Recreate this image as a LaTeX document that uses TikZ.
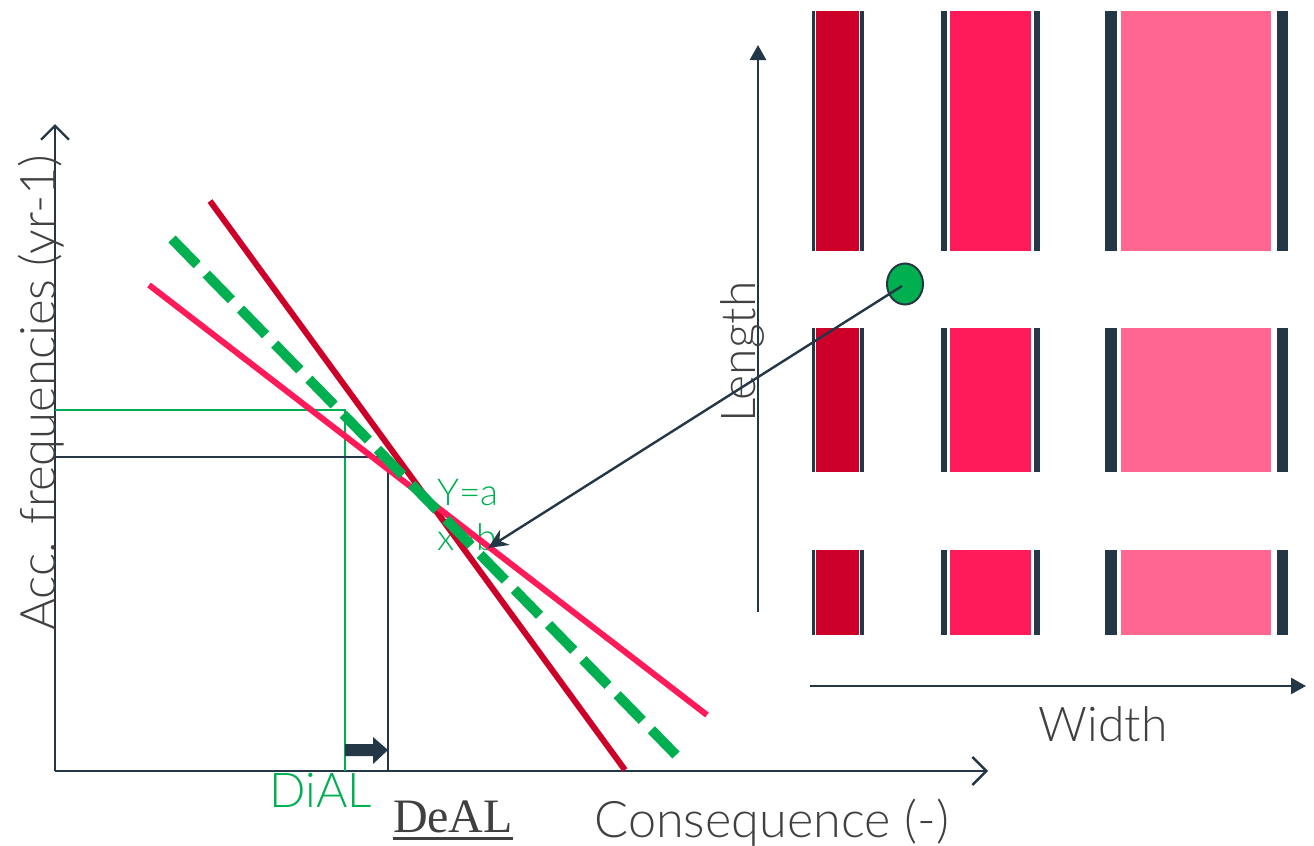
\documentclass[tikz,border=0pt]{standalone}
\usepackage{fontspec}
\setmainfont{Lato Light}
\newfontfamily\dealfont{Liberation Serif}
\usetikzlibrary{arrows.meta,shapes.geometric}
\definecolor{navy}{HTML}{243746}
\definecolor{darkred}{HTML}{CC0029}
\definecolor{pinkred}{HTML}{FF1A5A}
\definecolor{lightpink}{HTML}{FF6690}
\definecolor{gr}{HTML}{00B050}
\definecolor{txt}{HTML}{404040}
\begin{document}
\begin{tikzpicture}[x=0.5pt,y=-0.5pt,
  lbl/.style={inner sep=0pt,text=txt,font=\fontsize{24}{28}\selectfont},
  openaxis/.style={navy,line width=1.4pt,-{Straight Barb[length=7pt,width=14pt,line width=1.2pt]}},
  solidaxis/.style={navy,line width=1.3pt,-{Triangle[length=7.5pt,width=8pt]}},
  strip/.style={fill=navy},
  trend/.style={line width=3pt},
  refline/.style={line width=1pt}]
\useasboundingbox (0,0) rectangle (1314,846);

% ---------- left chart ----------
\coordinate (O) at (55,771);
\coordinate (ytop) at (55,124);
\coordinate (xend) at (988,771);
\draw[openaxis] (O) -- (ytop);
\draw[openaxis] (O) -- (xend);

\node[lbl,rotate=90,anchor=base,font=\fontsize{24.5}{28}\selectfont] (ylab) at (55,393) {Acc. frequencies (yr-1)};
\node[lbl,anchor=base west,font=\fontsize{25.2}{28}\selectfont] (xlab) at (594,837) {Consequence (-)};

% reference lines
\coordinate (gh0) at (55,410);
\coordinate (gh1) at (345,410);
\coordinate (gv1) at (345,771);
\coordinate (bh0) at (55,457);
\coordinate (bh1) at (388,457);
\coordinate (bv1) at (388,771);
\draw[refline,gr] (gh0) -- (gh1) -- (gv1);
\draw[refline,navy] (bh0) -- (bh1) -- (bv1);

% shift arrow
\fill[navy] (345,744) -- (373,744) -- (373,737) -- (388,750) -- (373,764) -- (373,756) -- (345,756) -- cycle;

\node[lbl,text=gr,anchor=base] (dial) at (321,807) {DiAL};
\node[lbl,anchor=base,font=\dealfont\fontsize{24}{28}\selectfont] (deal) at (453,832) {DeAL};
\draw[txt,line width=1.5pt] ([yshift=-3pt]deal.base west) -- ([yshift=-3pt]deal.base east);

\node[lbl,text=gr,anchor=base west,align=left,font=\fontsize{18.5}{22.5}\selectfont] (eq) at (437,550) {Y=a\\x+b};

% trend lines
\coordinate (r0) at (210,201);
\coordinate (r1) at (625,770);
\coordinate (p0) at (149,285);
\coordinate (p1) at (707,715);
\coordinate (g0) at (172,239);
\coordinate (g1) at (676,755);
\draw[trend,darkred] (r0) -- (r1);
\draw[trend,pinkred] (p0) -- (p1);
\draw[gr,line width=5pt,dash pattern=on 18pt off 6.5pt] (g0) -- (g1);

% ---------- right panel ----------
\coordinate (lo) at (758,612);
\coordinate (ltop) at (758,45);
\coordinate (wo) at (810,686);
\coordinate (wend) at (1306,686);
\draw[solidaxis] (lo) -- (ltop);
\draw[solidaxis] (wo) -- (wend);
\node[lbl,rotate=90,anchor=base] (llab) at (755,352) {Length};
\node[lbl,anchor=base] (wlab) at (1103,741) {Width};

\foreach \t/\b in {11/251, 328/472, 550/635}{
  \fill[strip] (812,\t) rectangle (815,\b);
  \fill[darkred] (816,\t) rectangle (859,\b);
  \fill[strip] (860,\t) rectangle (864,\b);
  \fill[strip] (941,\t) rectangle (947,\b);
  \fill[pinkred] (950,\t) rectangle (1031,\b);
  \fill[strip] (1034,\t) rectangle (1040,\b);
  \fill[strip] (1105,\t) rectangle (1117,\b);
  \fill[lightpink] (1121,\t) rectangle (1271,\b);
  \fill[strip] (1277,\t) rectangle (1288,\b);
}

% point and pointer
\node[ellipse,draw=navy,fill=gr,line width=1pt,minimum width=18pt,minimum height=20.5pt,inner sep=0pt] (pt) at (905,284) {};
\coordinate (ptc) at (902,286);
\coordinate (target) at (488,548);
\draw[navy,line width=1.2pt,-{Stealth[length=10pt,width=9pt]}] (ptc) -- (target);
\end{tikzpicture}
\end{document}
